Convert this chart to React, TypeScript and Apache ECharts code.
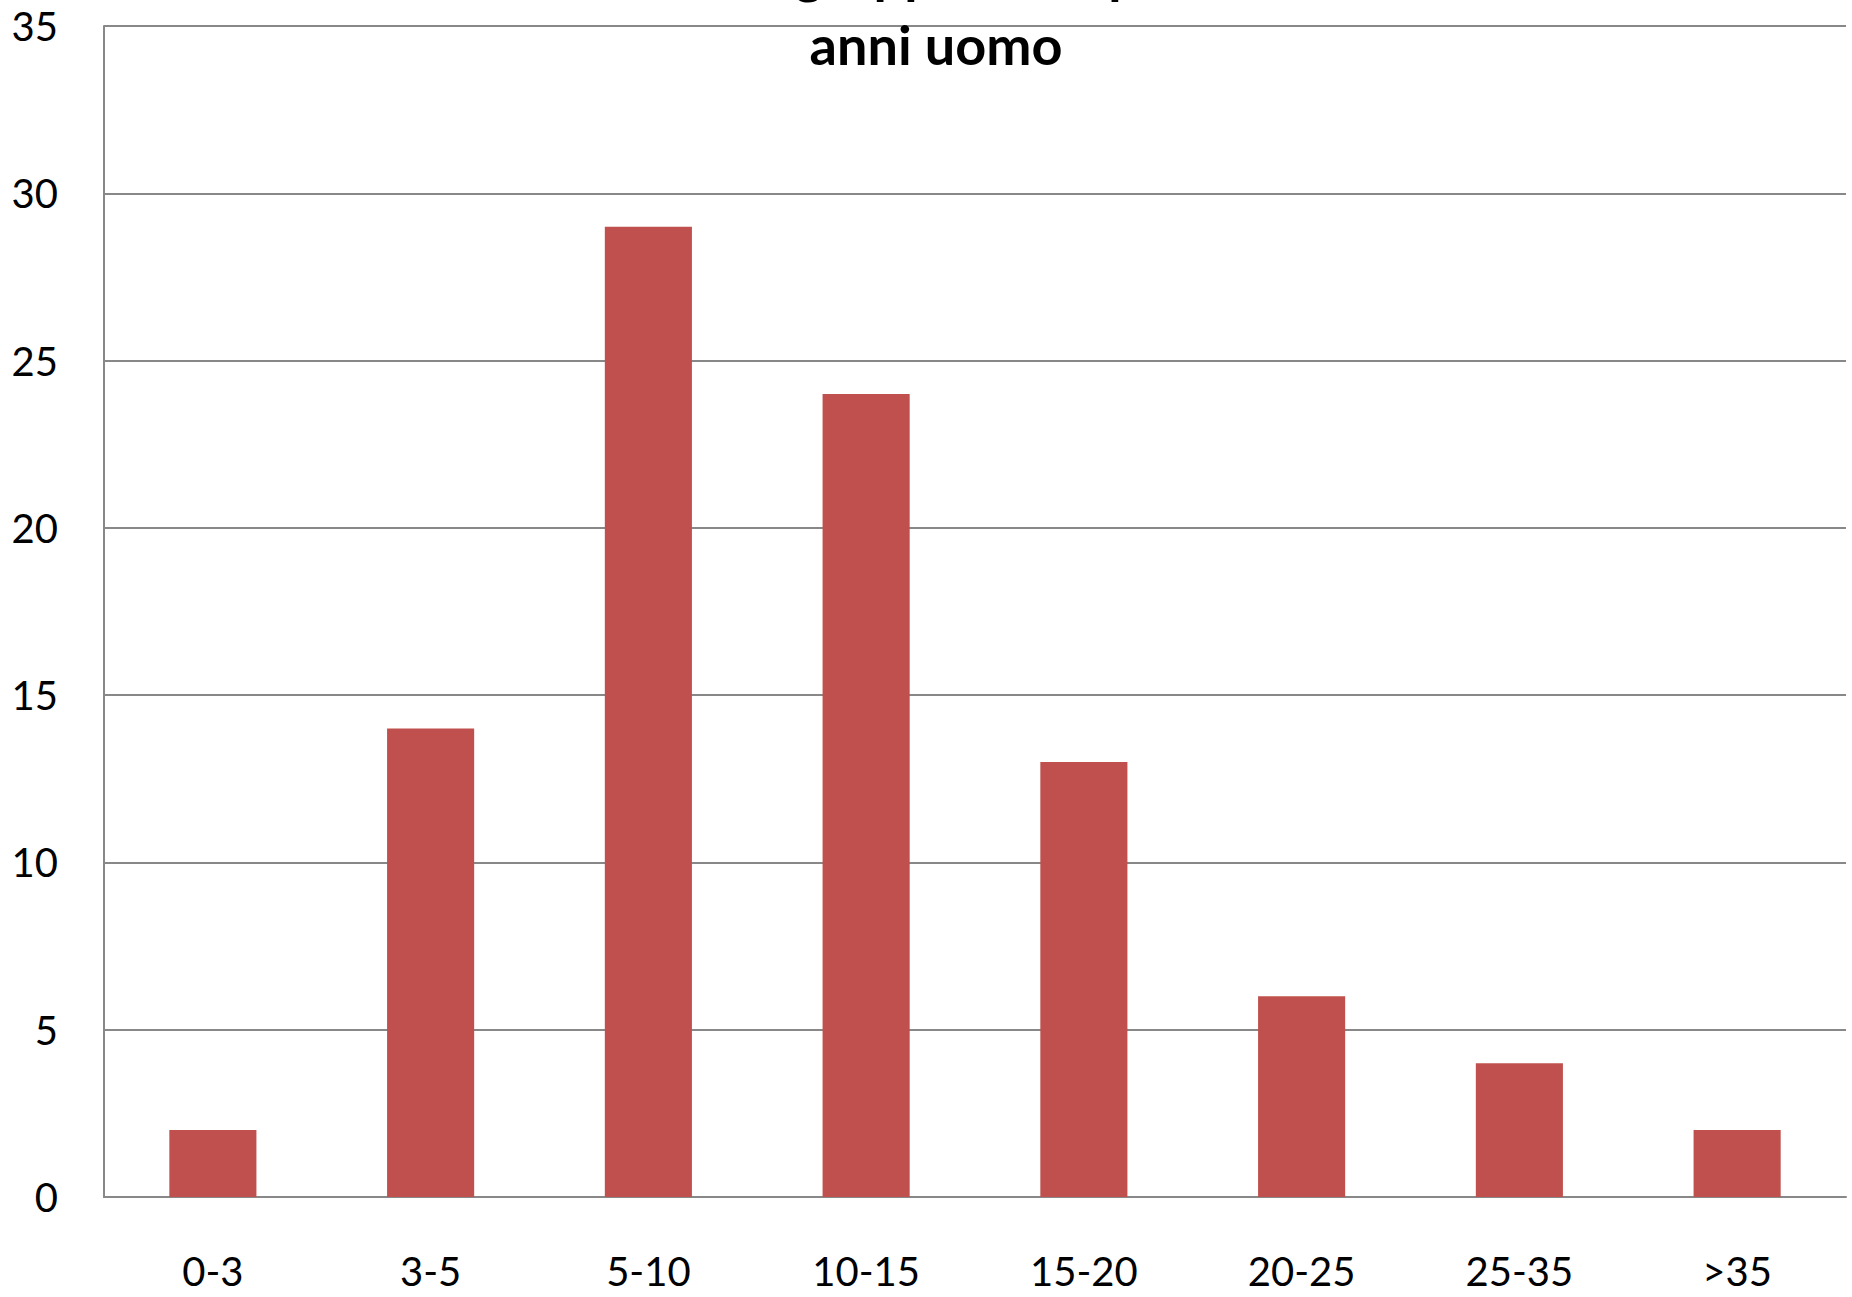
import React, { useEffect, useRef } from "react";
import * as echarts from "echarts";

const categories = ["0-3", "3-5", "5-10", "10-15", "15-20", "20-25", "25-35", ">35"];
const values = [2, 14, 29, 24, 13, 6, 4, 2];
const titleLine1 = "Distribuzione gruppi di età per durata in";
const titleLine2 = "anni uomo";
const yMin = 0;
const yMax = 35;
const yInterval = 5;

export default function App() {
  const ref = useRef<HTMLDivElement>(null);
  useEffect(() => {
    document.body.style.margin = "0";
    document.body.style.overflow = "hidden";
    if (!ref.current) return;
    const chart = echarts.init(ref.current, undefined, { renderer: "svg" });
    chart.setOption({
      animation: false,
      backgroundColor: "#ffffff",
      textStyle: { fontFamily: "Lato" },
      title: {
        text: titleLine1 + "\n" + titleLine2,
        left: 931,
        top: -69,
        textAlign: "center",
        textStyle: {
          fontFamily: "Lato",
          fontWeight: "bold",
          fontSize: 54,
          lineHeight: 72,
          color: "#000000",
        },
      },
      grid: { left: 104, right: 6, top: 26, bottom: 100, containLabel: false },
      xAxis: {
        type: "category",
        data: categories,
        axisLine: { show: true, lineStyle: { color: "#888888", width: 2 } },
        axisTick: { show: false },
        axisLabel: { color: "#000000", fontSize: 40, fontFamily: "Lato", margin: 54 },
        splitLine: { show: false },
      },
      yAxis: {
        type: "value",
        min: yMin,
        max: yMax,
        interval: yInterval,
        axisLine: { show: true, lineStyle: { color: "#888888", width: 2 } },
        axisTick: { show: false },
        axisLabel: { color: "#000000", fontSize: 40, fontFamily: "Lato", margin: 46 },
        splitLine: { show: true, lineStyle: { color: "#888888", width: 2 } },
      },
      series: [
        {
          type: "bar",
          data: values,
          barWidth: "40%",
          itemStyle: { color: "#C0504D" },
        },
      ],
    });
    return () => chart.dispose();
  }, []);
  return <div ref={ref} style={{ width: 1852, height: 1297 }} />;
}
